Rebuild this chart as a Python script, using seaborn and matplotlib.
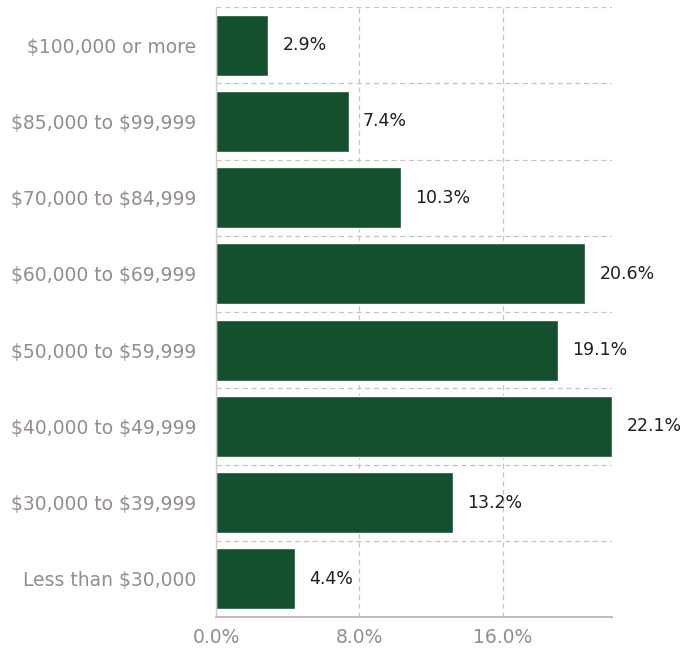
import matplotlib
matplotlib.use("Agg")
import matplotlib.pyplot as plt
import seaborn as sns
import pandas as pd
from matplotlib.ticker import FixedLocator

categories = [
    "$100,000 or more",
    "$85,000 to $99,999",
    "$70,000 to $84,999",
    "$60,000 to $69,999",
    "$50,000 to $59,999",
    "$40,000 to $49,999",
    "$30,000 to $39,999",
    "Less than $30,000",
]
shares = [2.9, 7.4, 10.3, 20.6, 19.1, 22.1, 13.2, 4.4]
x_ticks = [0, 8, 16]
x_tick_labels = ["0.0%", "8.0%", "16.0%"]

df = pd.DataFrame({"band": categories, "share": shares})

sns.set_theme(style="white")
plt.rcParams["font.family"] = ["DejaVu Sans"]
plt.rcParams["text.parse_math"] = False

fig = plt.figure(figsize=(6.86, 6.5), dpi=100)
ax = fig.add_axes([216 / 686, 33 / 650, (612 - 216) / 686, (643 - 33) / 650])

bar_color = "#14502e"
sns.barplot(data=df, x="share", y="band", orient="h", color=bar_color,
            width=0.8, saturation=1, ax=ax)

ax.set_xlim(0, 22.1)
ax.set_ylim(len(categories) - 0.5, -0.5)

# Dashed grid: verticals at the tick values, horizontals between categories
grid_kw = dict(color="#c9c2c2", linestyle=(0, (4, 3)), linewidth=0.9, zorder=0)
for t in x_ticks[1:]:
    ax.axvline(t, **grid_kw)
for i in range(len(categories)):
    ax.axhline(i - 0.5, **grid_kw)

for p in ax.patches:
    p.set_zorder(2)

for spine in ["top", "right"]:
    ax.spines[spine].set_visible(False)
ax.spines["left"].set_color("#d0cccc")
ax.spines["left"].set_linewidth(1.0)
ax.spines["bottom"].set_color("#b5b0b0")
ax.spines["bottom"].set_linewidth(1.2)

ax.xaxis.set_major_locator(FixedLocator(x_ticks))
ax.set_xticklabels(x_tick_labels)
ax.tick_params(axis="x", colors="#958d8d", labelsize=13.5, length=0, pad=8)
ax.tick_params(axis="y", colors="#958d8d", labelsize=13.5, length=0, pad=14)
ax.set_xlabel("")
ax.set_ylabel("")

for i, v in enumerate(shares):
    ax.text(v + 0.8, i, f"{v:.1f}%", va="center", ha="left",
            fontsize=12.5, color="#1e1e1e", clip_on=False)

fig.savefig("out.png", dpi=100)
